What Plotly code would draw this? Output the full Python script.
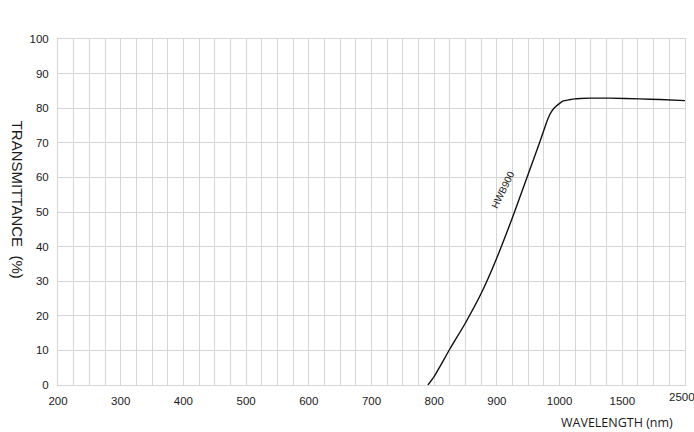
import numpy as np
import plotly.graph_objects as go

# Axis tick labels (non-linear wavelength axis, equally spaced labels)
tick_nm = [200, 300, 400, 500, 600, 700, 800, 900, 1000, 1500, 2500]
tick_labels = ["200", "300", "400", "500", "600", "700", "800", "900", "1000", "1500", "2500"]
y_ticks = list(range(0, 101, 10))

# HWB900 transmittance curve
wavelength = [790, 800, 825, 850, 875, 900, 925, 950, 968,
              975, 980, 985, 991, 1000, 1030, 1072, 1120, 1165, 1245, 1400, 1782, 2100, 2500]
transmittance = [0, 2.5, 10.4, 18.0, 26.5, 36.8, 48.5, 61.0, 70,
                 73.7, 76.3, 78.4, 80, 81.4, 82.1, 82.4, 82.7, 82.8, 82.9, 82.9, 82.7, 82.5, 82.2]

curve_label = "HWB900"

# scale: wavelength -> equal-spaced label position
tick_pos = list(range(len(tick_nm)))
xpos = np.interp(wavelength, tick_nm, tick_pos)

fig = go.Figure()
fig.add_trace(go.Scatter(
    x=xpos, y=transmittance, mode="lines",
    line=dict(color="#111111", width=1.4, shape="spline", smoothing=0.6),
    hoverinfo="skip", showlegend=False,
))

grid_col = "#d6d6d6"
tick_font = dict(family="Liberation Sans, Arial, sans-serif", size=11.5, color="#1a1a1a")
# last label is drawn separately (nudged to stay inside the page)
shown_labels = tick_labels[:-1] + [""]
fig.update_xaxes(
    range=[0, len(tick_nm) - 1],
    tickmode="array", tickvals=tick_pos, ticktext=shown_labels,
    showgrid=True, gridcolor=grid_col, gridwidth=1,
    minor=dict(dtick=0.25, tick0=0, showgrid=True, gridcolor=grid_col, gridwidth=1),
    zeroline=False, showline=True, linecolor=grid_col, mirror=True,
    ticks="", ticklabelstandoff=5, tickfont=tick_font,
)
fig.update_yaxes(
    range=[0, 100], tickmode="array", tickvals=y_ticks,
    showgrid=True, gridcolor=grid_col, gridwidth=1,
    zeroline=False, showline=True, linecolor=grid_col, mirror=True,
    ticks="", ticklabelstandoff=6, tickfont=tick_font,
)

fig.add_annotation(
    text=tick_labels[-1], x=tick_pos[-1], xref="x", y=0, yref="paper",
    xanchor="center", yanchor="middle", xshift=-3, yshift=-12, showarrow=False,
    font=tick_font,
)
fig.add_annotation(
    text="TRANSMITTANCE  (%)", textangle=90,
    xref="paper", yref="paper", x=-0.064, y=0.536,
    xanchor="center", yanchor="middle", showarrow=False,
    font=dict(family="Liberation Sans, Arial, sans-serif", size=15, color="#1a1a1a"),
)
fig.add_annotation(
    text="WAVELENGTH (nm)",
    xref="paper", yref="paper", x=0.984, y=-0.078,
    xanchor="right", yanchor="top", showarrow=False,
    font=dict(family="Open Sans, Liberation Sans, sans-serif", size=12.5, color="#1a1a1a"),
)
fig.add_annotation(
    text=curve_label, textangle=-64,
    x=float(np.interp(910, tick_nm, tick_pos)), y=56.4,
    xref="x", yref="y", showarrow=False,
    font=dict(family="Liberation Sans Narrow, Liberation Sans, sans-serif", size=10, color="#1a1a1a"),
)

fig.update_layout(
    width=694, height=432,
    margin=dict(l=58, r=9, t=39, b=47),
    paper_bgcolor="white", plot_bgcolor="white",
)

fig.write_html(
    "out.html",
    config={"displayModeBar": False},
    post_script="document.body.style.margin='0';document.body.style.overflow='hidden';",
)
